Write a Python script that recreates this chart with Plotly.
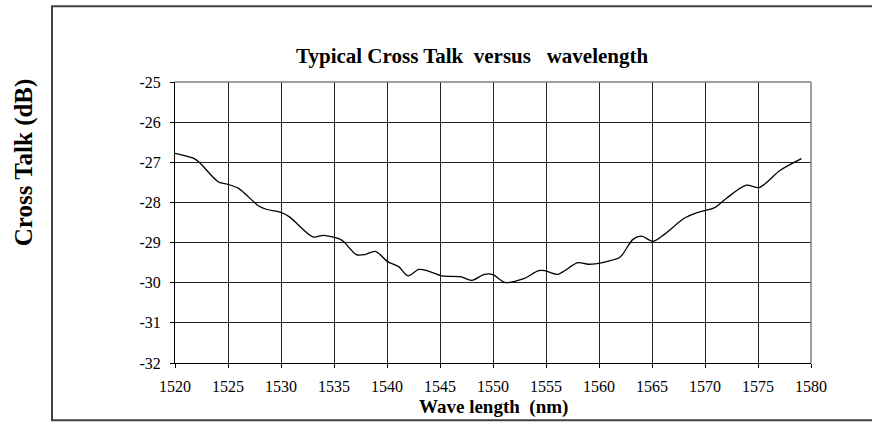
import plotly.graph_objects as go

wavelength_nm = [1520.0, 1521.9, 1522.4, 1524.1, 1525.0, 1526.0, 1527.9, 1528.6, 1530.0, 1530.8,
                 1533.0, 1534.0, 1535.6, 1536.0, 1537.1, 1537.9, 1538.9, 1540.1, 1541.1, 1542.0,
                 1543.0, 1543.9, 1545.2, 1546.9, 1548.0, 1549.2, 1550.0, 1551.1, 1552.9, 1554.3,
                 1554.9, 1556.1, 1558.0, 1559.0, 1560.9, 1562.0, 1563.2, 1564.0, 1565.1, 1566.2,
                 1568.0, 1569.2, 1570.9, 1572.0, 1573.9, 1575.1, 1577.1, 1579.1]
cross_talk_db = [-26.78, -26.92, -27.03, -27.49, -27.55, -27.65, -28.09, -28.17, -28.25, -28.36,
                 -28.86, -28.82, -28.92, -29.00, -29.30, -29.30, -29.22, -29.48, -29.60, -29.83,
                 -29.67, -29.71, -29.83, -29.85, -29.94, -29.79, -29.80, -29.99, -29.90, -29.70,
                 -29.70, -29.79, -29.50, -29.54, -29.46, -29.36, -28.92, -28.84, -28.97, -28.79,
                 -28.40, -28.26, -28.13, -27.90, -27.57, -27.63, -27.20, -26.91]
x_ticks = list(range(1520, 1581, 5))
y_ticks = list(range(-32, -24, 1))
y_tick_labels = ["-32", "-31", "-30", "-29", "-28", "-27", "-26", "-25"]

FONT = "Liberation Serif"
NB = "\u00a0"

fig = go.Figure()
fig.add_trace(go.Scatter(x=wavelength_nm, y=cross_talk_db, mode="lines",
                         line=dict(color="black", width=1.3, shape="spline", smoothing=0.8),
                         showlegend=False, hoverinfo="skip"))

fig.update_layout(
    width=872, height=424,
    margin=dict(l=175, r=61, t=82, b=61),
    paper_bgcolor="white", plot_bgcolor="white",
    font=dict(family=FONT, size=15, color="black"),
    xaxis=dict(range=[1520, 1580], tickvals=x_ticks, showgrid=True, gridcolor="#222222", gridwidth=1,
               zeroline=False, showline=True, linecolor="black", linewidth=1, mirror=False,
               ticks="outside", ticklen=4, tickcolor="black", ticklabelstandoff=5,
               tickfont=dict(family=FONT, size=16)),
    yaxis=dict(range=[-32, -25], tickvals=y_ticks, ticktext=y_tick_labels, showgrid=True,
               gridcolor="#222222", gridwidth=1,
               zeroline=False, showline=True, linecolor="black", linewidth=1,
               ticks="outside", ticklen=4, tickcolor="black", ticklabelstandoff=6,
               tickfont=dict(family=FONT, size=16)),
)

# gray top/right frame of the plot area
fig.add_shape(type="line", xref="paper", yref="paper", x0=0, x1=1, y0=1, y1=1,
              line=dict(color="#808080", width=1.5))
fig.add_shape(type="line", xref="paper", yref="paper", x0=1, x1=1, y0=0, y1=1,
              line=dict(color="#808080", width=1.5))
# outer chart box
fig.add_shape(type="rect", xref="paper", yref="paper", x0=(52-175)/636, x1=1.2,
              y0=(362.7-420)/281, y1=(362.7-6)/281, line=dict(color="#404040", width=2),
              layer="below")

fig.add_annotation(text=f"<b>Typical Cross Talk{NB}{NB}versus{NB}{NB}{NB}wavelength</b>",
                   xref="paper", yref="paper", xanchor="center", yanchor="middle",
                   x=(472-175)/636, y=(362.7-56)/281, showarrow=False,
                   font=dict(family=FONT, size=21, color="black"))
fig.add_annotation(text=f"<b>Wave length{NB}{NB}(nm)</b>", xref="paper", yref="paper",
                   xanchor="center", yanchor="middle",
                   x=0.5, y=(362.7-407)/281, showarrow=False,
                   font=dict(family=FONT, size=19, color="black"))
fig.add_annotation(text="<b>Cross Talk (dB)</b>", xref="paper", yref="paper",
                   xanchor="center", yanchor="middle",
                   x=(24-175)/636, y=(362.7-162)/281, showarrow=False, textangle=-90,
                   font=dict(family=FONT, size=25, color="black"))

fig.write_html("out.html", config={"displayModeBar": False},
               post_script="document.body.style.margin='0';")
